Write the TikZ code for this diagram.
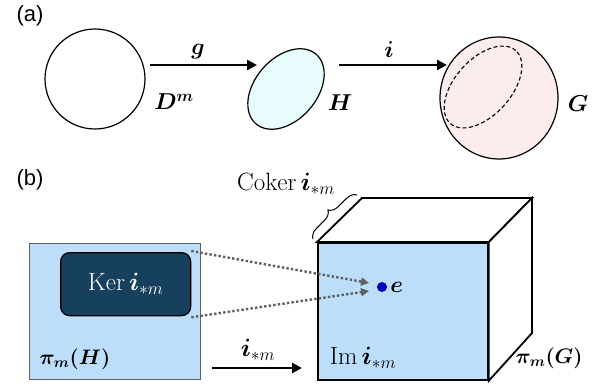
\RequirePackage{fix-cm}
\documentclass[tikz,border=0pt]{standalone}
\usepackage{fontspec}
\usepackage{bm}
\newfontfamily\labfont{Liberation Sans}
\usetikzlibrary{arrows.meta,decorations.pathreplacing,shapes.geometric}
\definecolor{panelblue}{RGB}{189,222,251}
\definecolor{kerblue}{RGB}{23,64,95}
\definecolor{hcyan}{RGB}{232,252,253}
\definecolor{gpink}{RGB}{253,236,236}
\definecolor{dotblue}{RGB}{0,0,190}
\definecolor{dotgray}{RGB}{95,95,95}
\tikzset{
  lbl/.style={font=\fontsize{23}{25}\selectfont, inner sep=0pt},
  midlbl/.style={font=\fontsize{21}{23}\selectfont, inner sep=0pt},
  biglbl/.style={font=\fontsize{25}{27}\selectfont, inner sep=0pt},
  panel/.style={font=\labfont\fontsize{22}{24}\selectfont, inner sep=0pt},
  arr/.style={line width=2.8pt, -{Triangle[length=10pt,width=10pt]}},
  dotarr/.style={draw=dotgray, line width=2.4pt, dash pattern=on 2.4pt off 2.2pt, -{Triangle[length=8pt,width=8pt]}},
  blob/.style={draw, line width=1.2pt, inner sep=0pt},
  cubeline/.style={draw, line width=1.8pt, line join=miter},
}
\begin{document}
\begin{tikzpicture}[x=1pt,y=-1pt]
\useasboundingbox (0,0) rectangle (613,390);
% ---------- (a) ----------
\node[panel] (pa) at (30,16) {(a)};
\node[blob, circle, minimum size=100pt] (Dm) at (95,79) {};
\node[lbl] (Dml) at (174,102) {$\bm{D^{m}}$};
\coordinate (g1) at (150,65);
\coordinate (g2) at (257,65);
\draw[arr] (g1) -- (g2);
\node[lbl] (gl) at (198,52) {$\bm{g}$};
\node[blob, ellipse, fill=hcyan, minimum width=92pt, minimum height=62pt, rotate=49] (H) at (286,89) {};
\node[lbl] (Hl) at (340,103) {$\bm{H}$};
\coordinate (i1) at (339,65);
\coordinate (i2) at (447,65);
\draw[arr] (i1) -- (i2);
\node[lbl] (il) at (389,50) {$\bm{i}$};
\node[blob, ellipse, fill=gpink, minimum width=118pt, minimum height=122pt] (G) at (499,98) {};
\node[draw, ellipse, line width=1.1pt, dash pattern=on 4pt off 2.5pt, minimum width=98pt, minimum height=56pt, rotate=48, inner sep=0pt] (Hin) at (483,87) {};
\node[lbl] (Gl) at (578,104) {$\bm{G}$};
% ---------- (b) ----------
\node[panel] (pb) at (30,180) {(b)};
\node[draw=gray!75!black, fill=panelblue, line width=1pt, minimum width=171pt, minimum height=136pt, anchor=north west, inner sep=0pt] (piH) at (29,243) {};
\node[draw=black, line width=1.3pt, fill=kerblue, rounded corners=9pt, minimum width=130pt, minimum height=63pt, anchor=north west, inner sep=0pt, text=white, font=\fontsize{25}{27}\selectfont] (ker) at (60,252) {$\mathrm{Ker}\,\bm{i}_{*m}$};
\node[midlbl] (piHl) at (75,359) {$\bm{\pi_{m}(H)}$};
% cube
\node[cubeline, fill=panelblue, minimum width=170pt, minimum height=137pt, anchor=north west, inner sep=0pt] (front) at (317,242) {};
\coordinate (b1) at (362,198);
\coordinate (b2) at (532,198);
\coordinate (b3) at (532,333);
\draw[cubeline, fill=white] (front.north west) -- (b1) -- (b2) -- (front.north east) -- cycle;
\draw[cubeline, fill=white] (front.north east) -- (b2) -- (b3) -- (front.south east) -- cycle;
\draw[line width=1pt, decorate, decoration={brace, amplitude=10pt}] (313,239) -- (357,195);
\node[biglbl] (coker) at (286,184) {$\mathrm{Coker}\,\bm{i}_{*m}$};
% e
\node[circle, fill=dotblue, inner sep=0pt, minimum size=10pt] (e) at (382,287) {};
\node[lbl, anchor=west] (el) at ([xshift=3pt]e.east) {$\bm{e}$};
\coordinate (t1) at (369,283);
\coordinate (t2) at (369,291);
\draw[dotarr] ([yshift=1pt]ker.north east) -- (t1);
\draw[dotarr] ([yshift=-1pt]ker.south east) -- (t2);
\node[biglbl] (iml) at (363,358) {$\mathrm{Im}\,\bm{i}_{*m}$};
\node[midlbl] (piGl) at (549,358) {$\bm{\pi_{m}(G)}$};
% arrow i_*m
\coordinate (k1) at (212,368);
\coordinate (k2) at (302,368);
\draw[arr] (k1) -- (k2);
\node[biglbl] (kl) at (258,350) {$\bm{i}_{*m}$};
\end{tikzpicture}
\end{document}
